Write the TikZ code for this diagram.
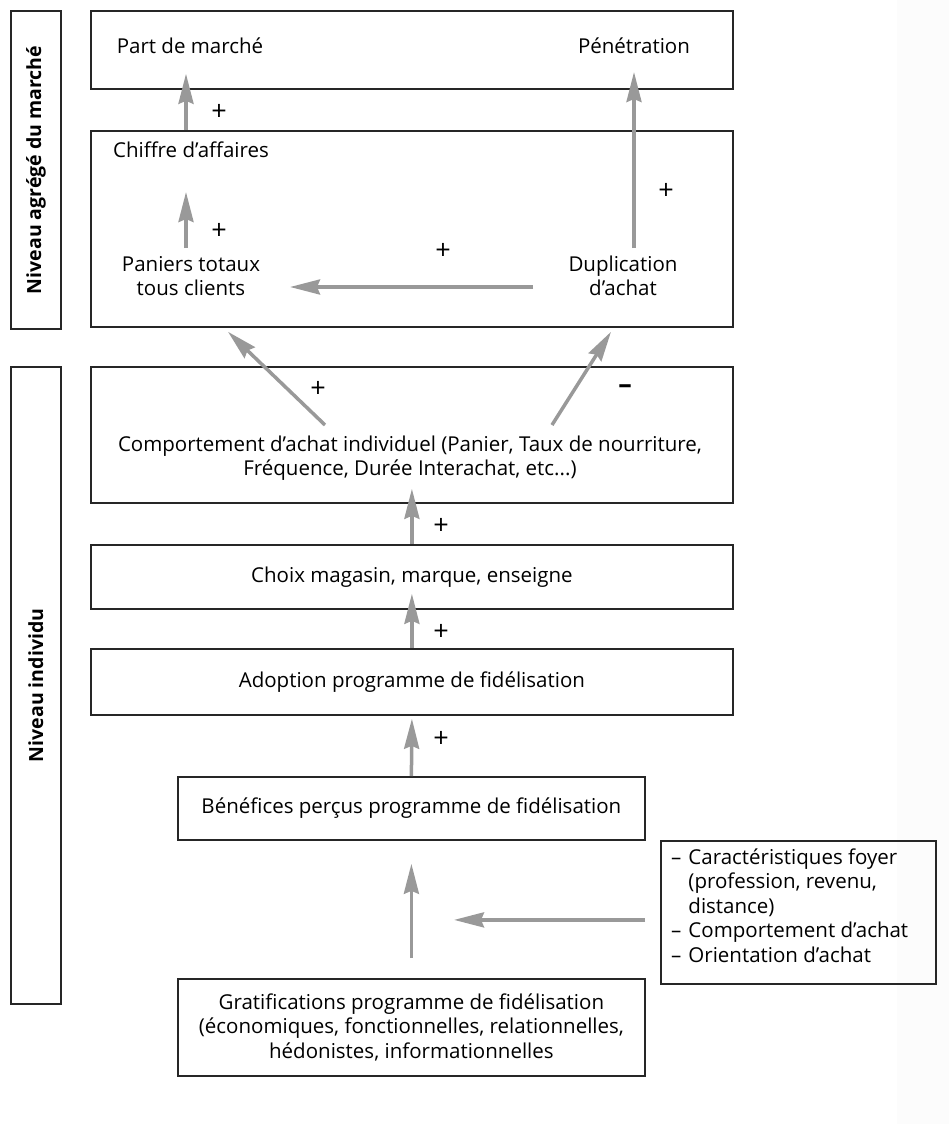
\documentclass[tikz,border=0pt]{standalone}
\usepackage{fontspec}
\setmainfont{Open Sans}
\usetikzlibrary{arrows.meta,calc}

\begin{document}
\begin{tikzpicture}[x=1pt,y=-1pt,
  box/.style={draw=black!85, line width=1.8pt, inner sep=0pt, anchor=north west},
  arr/.style={draw=black!40, line width=3.5pt, -{Stealth[length=30pt,width=15pt,inset=3pt]}},
  txt/.style={font=\fontsize{20.5}{24.5}\selectfont, align=center, inner sep=0pt},
  side/.style={font=\fontsize{19.5}{20}\selectfont\bfseries, rotate=90, inner sep=0pt},
  sgn/.style={font=\fontsize{27}{28}\selectfont, inner sep=0pt},
  neg/.style={font=\fontsize{27}{28}\selectfont\bfseries, inner sep=0pt}]

% page and pale right margin
\useasboundingbox (0,0) rectangle (949,1124);
\fill[black!1] (897,0) rectangle (949,1124);

% level labels
\node[box, minimum width=50pt, minimum height=318pt] (lvA) at (10,10) {};
\node[side] at (lvA.center) {Niveau agrégé du marché};
\node[box, minimum width=50pt, minimum height=637pt] (lvB) at (10,366) {};
\node[side] at (lvB.center) {Niveau individu};

% aggregate level
\node[box, minimum width=642pt, minimum height=78pt] (top) at (90,10) {};
\node[txt] (pm) at (190,46) {Part de marché};
\node[txt] (pen) at (634,46) {Pénétration};

\node[box, minimum width=642pt, minimum height=196pt] (agg) at (90,130) {};
\node[txt] (chif) at (191,150) {Chiffre d’affaires};
\node[txt] (pan) at (191,276) {Paniers totaux\\tous clients};
\node[txt] (dup) at (623,276) {Duplication\\d’achat};

% individual level
\node[box, minimum width=642pt, minimum height=136pt] (comp) at (90,366) {};
\node[txt] (compt) at (410,458) {Comportement d’achat individuel (Panier, Taux de nourriture,\\Fréquence, Durée Interachat, etc...)};

\node[box, minimum width=642pt, minimum height=64pt] (choix) at (90,544) {};
\node[txt] at (choix.center) {Choix magasin, marque, enseigne};

\node[box, minimum width=642pt, minimum height=66pt] (adop) at (90,648) {};
\node[txt] at (adop.center) {Adoption programme de fidélisation};

\node[box, minimum width=467pt, minimum height=63pt] (ben) at (177,776) {};
\node[txt] at (ben.center) {Bénéfices perçus programme de fidélisation};

\node[box, minimum width=467pt, minimum height=97pt] (grat) at (177,978) {};
\node[txt] at (grat.center) {Gratifications programme de fidélisation\\(économiques, fonctionnelles, relationnelles,\\hédonistes, informationnelles};

\node[box, minimum width=275pt, minimum height=143pt] (car) at (660,840) {};
\node[txt, align=left, anchor=north west] at ($(car.north west)+(11,7)$) {%
  \begin{tabular}{@{}l@{\hspace{7pt}}l@{}}
  – & Caractéristiques foyer\\
    & (profession, revenu,\\
    & distance)\\
  – & Comportement d’achat\\
  – & Orientation d’achat
  \end{tabular}};

% influences
\draw[arr] ($(agg.north west)+(96,0)$) -- ($(top.south west)+(96,-16)$);
\draw[arr] ($(pan.center)+(-5,-28)$) -- ($(chif.center)+(-5,42)$);
\draw[arr] ($(dup.center)+(11,-28)$) -- ($(pen.center)+(0,26)$);
\draw[arr] ($(dup.center)+(-90,11)$) -- ($(pan.center)+(99,11)$);
\draw[arr] ($(compt.center)+(-85,-33)$) -- ($(agg.south west)+(138,4)$);
\draw[arr] ($(compt.center)+(142,-33)$) -- ($(agg.south west)+(521,4)$);
\draw[arr] (choix.north) -- ($(comp.south)+(0,-15)$);
\draw[arr] (adop.north) -- ($(choix.south)+(0,-16)$);
\draw[arr] (ben.north) -- ($(adop.south)+(0,3)$);
\draw[arr] ($(grat.north)+(0,-20)$) -- ($(ben.south)+(0,23)$);
\draw[arr] ($(car.west)+(-15,7.5)$) -- ($(car.west)+(-206,7.5)$);

% signs
\node[sgn] at (219,112) {+};
\node[sgn] at (666,191) {+};
\node[sgn] at (219,231) {+};
\node[sgn] at (443,251) {+};
\node[sgn] at (318,389) {+};
\node[neg] at (625,389) {–};
\node[sgn] at (441,526) {+};
\node[sgn] at (441,632) {+};
\node[sgn] at (441,739) {+};
\end{tikzpicture}
\end{document}
